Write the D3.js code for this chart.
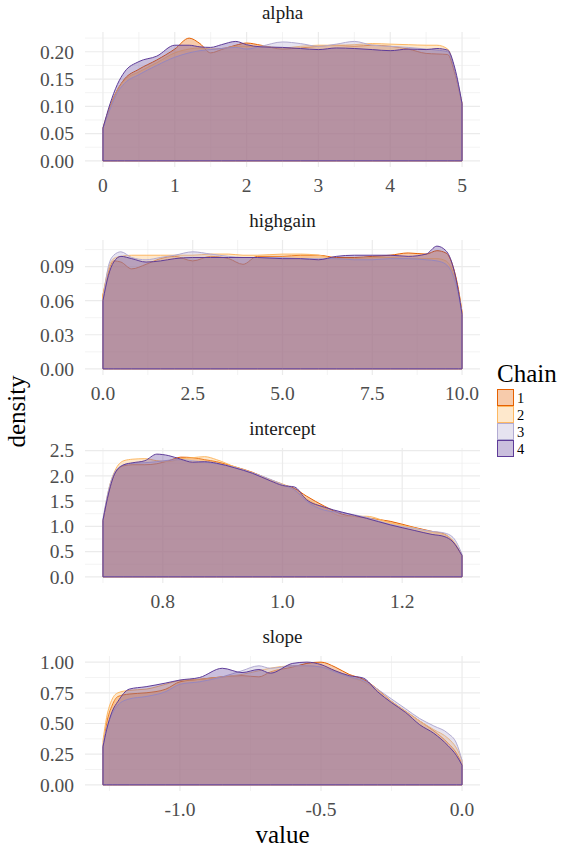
<!DOCTYPE html>
<html lang="en">
<head>
<meta charset="UTF-8">
<title>Chain densities</title>
<script src="https://d3js.org/d3.v7.min.js"></script>
<style>
  body { margin: 0; background: #fff; }
  svg text { font-family: "Liberation Serif", "DejaVu Serif", serif; }
</style>
</head>
<body>
<svg id="main" width="562" height="848"></svg>
<script>
// chain colours (PuOr)
const chains = ['1', '2', '3', '4'];
const chainColors = ['#e66101', '#fdb863', '#b2abd2', '#5e3c99'];

// alpha
const alphaX = [0, 0.1, 0.2, 0.3, 0.5, 0.75, 1.0, 1.2, 1.35, 1.5, 1.65, 1.85, 2.0, 2.2, 2.5, 2.75, 3.0, 3.25, 3.5, 3.75, 4.0, 4.25, 4.5, 4.65, 4.8, 4.9, 5.0];
const alphaY = [
  [0.06, 0.10, 0.13, 0.15, 0.168, 0.185, 0.205, 0.225, 0.215, 0.198, 0.204, 0.212, 0.216, 0.212, 0.205, 0.207, 0.210, 0.212, 0.210, 0.212, 0.210, 0.205, 0.197, 0.196, 0.195, 0.16, 0.105],
  [0.06, 0.10, 0.13, 0.148, 0.163, 0.18, 0.198, 0.205, 0.207, 0.205, 0.206, 0.21, 0.21, 0.21, 0.207, 0.21, 0.212, 0.212, 0.213, 0.215, 0.214, 0.213, 0.212, 0.212, 0.205, 0.165, 0.105],
  [0.06, 0.095, 0.125, 0.142, 0.158, 0.175, 0.19, 0.198, 0.202, 0.204, 0.206, 0.208, 0.205, 0.21, 0.218, 0.215, 0.21, 0.214, 0.219, 0.212, 0.21, 0.208, 0.205, 0.203, 0.2, 0.165, 0.105],
  [0.06, 0.105, 0.14, 0.163, 0.182, 0.192, 0.212, 0.212, 0.209, 0.208, 0.213, 0.219, 0.213, 0.209, 0.208, 0.206, 0.204, 0.207, 0.206, 0.204, 0.202, 0.205, 0.204, 0.206, 0.203, 0.17, 0.105]
];
const alphaXTicks = [0, 1, 2, 3, 4, 5];
const alphaXLabels = ['0', '1', '2', '3', '4', '5'];
const alphaYTicks = [0, 0.05, 0.10, 0.15, 0.20];
const alphaYLabels = ['0.00', '0.05', '0.10', '0.15', '0.20'];

// highgain
const highgainX = [0, 0.15, 0.3, 0.5, 0.8, 1.2, 1.6, 2.0, 2.5, 3.0, 3.5, 3.9, 4.3, 5.0, 5.5, 6.0, 6.5, 7.0, 7.5, 8.0, 8.5, 9.0, 9.3, 9.55, 9.75, 9.9, 10];
const highgainY = [
  [0.065, 0.085, 0.095, 0.094, 0.088, 0.092, 0.097, 0.099, 0.095, 0.099, 0.097, 0.092, 0.099, 0.099, 0.1, 0.1, 0.098, 0.098, 0.099, 0.1, 0.102, 0.101, 0.104, 0.102, 0.09, 0.07, 0.05],
  [0.065, 0.088, 0.097, 0.099, 0.1, 0.1, 0.1, 0.1, 0.1, 0.101, 0.101, 0.1, 0.1, 0.101, 0.101, 0.1, 0.097, 0.097, 0.098, 0.098, 0.097, 0.097, 0.097, 0.095, 0.085, 0.068, 0.05],
  [0.06, 0.09, 0.1, 0.103, 0.098, 0.096, 0.098, 0.1, 0.103, 0.101, 0.099, 0.098, 0.098, 0.098, 0.097, 0.097, 0.097, 0.096, 0.096, 0.097, 0.097, 0.096, 0.095, 0.092, 0.082, 0.065, 0.048],
  [0.06, 0.082, 0.094, 0.099, 0.097, 0.094, 0.095, 0.097, 0.098, 0.098, 0.098, 0.098, 0.098, 0.097, 0.097, 0.096, 0.099, 0.1, 0.1, 0.1, 0.099, 0.101, 0.108, 0.104, 0.09, 0.068, 0.048]
];
const highgainXTicks = [0, 2.5, 5, 7.5, 10];
const highgainXLabels = ['0.0', '2.5', '5.0', '7.5', '10.0'];
const highgainYTicks = [0, 0.03, 0.06, 0.09];
const highgainYLabels = ['0.00', '0.03', '0.06', '0.09'];

// intercept
const interceptX = [0.7, 0.71, 0.72, 0.735, 0.75, 0.77, 0.79, 0.81, 0.83, 0.85, 0.87, 0.89, 0.92, 0.95, 0.98, 1.0, 1.02, 1.04, 1.07, 1.1, 1.14, 1.18, 1.22, 1.25, 1.27, 1.285, 1.3];
const interceptY = [
  [1.1, 1.7, 2.05, 2.2, 2.22, 2.22, 2.24, 2.3, 2.37, 2.36, 2.32, 2.28, 2.18, 2.07, 1.92, 1.83, 1.75, 1.6, 1.4, 1.24, 1.17, 1.1, 0.98, 0.9, 0.85, 0.7, 0.42],
  [1.1, 1.75, 2.1, 2.3, 2.33, 2.34, 2.3, 2.28, 2.34, 2.36, 2.38, 2.32, 2.18, 2.06, 1.92, 1.84, 1.72, 1.55, 1.36, 1.2, 1.2, 1.07, 0.97, 0.88, 0.84, 0.72, 0.43],
  [1.15, 1.75, 2.08, 2.22, 2.25, 2.26, 2.28, 2.31, 2.32, 2.3, 2.27, 2.24, 2.17, 2.06, 1.93, 1.83, 1.72, 1.5, 1.32, 1.27, 1.18, 1.04, 0.96, 0.9, 0.87, 0.78, 0.45],
  [1.12, 1.68, 2.05, 2.22, 2.26, 2.3, 2.43, 2.4, 2.33, 2.27, 2.28, 2.25, 2.16, 2.05, 1.9, 1.81, 1.78, 1.53, 1.38, 1.28, 1.16, 1.03, 0.92, 0.84, 0.8, 0.69, 0.42]
];
const interceptXTicks = [0.8, 1.0, 1.2];
const interceptXLabels = ['0.8', '1.0', '1.2'];
const interceptYTicks = [0, 0.5, 1.0, 1.5, 2.0, 2.5];
const interceptYLabels = ['0.0', '0.5', '1.0', '1.5', '2.0', '2.5'];

// slope
const slopeX = [-1.273, -1.26, -1.24, -1.22, -1.18, -1.12, -1.05, -1.0, -0.93, -0.85, -0.78, -0.72, -0.68, -0.6, -0.55, -0.5, -0.45, -0.4, -0.35, -0.3, -0.25, -0.2, -0.15, -0.1, -0.05, -0.02, 0];
const slopeY = [
  [0.3, 0.5, 0.65, 0.72, 0.74, 0.75, 0.78, 0.84, 0.86, 0.88, 0.89, 0.88, 0.92, 0.96, 0.99, 1.0, 0.96, 0.9, 0.86, 0.78, 0.68, 0.6, 0.52, 0.44, 0.34, 0.26, 0.17],
  [0.36, 0.55, 0.7, 0.75, 0.77, 0.78, 0.82, 0.85, 0.86, 0.88, 0.9, 0.93, 0.95, 0.97, 0.97, 0.96, 0.93, 0.88, 0.84, 0.77, 0.68, 0.6, 0.52, 0.45, 0.38, 0.3, 0.2],
  [0.32, 0.46, 0.58, 0.65, 0.7, 0.72, 0.76, 0.82, 0.84, 0.88, 0.93, 0.97, 0.95, 0.97, 0.97, 0.96, 0.92, 0.88, 0.85, 0.78, 0.7, 0.62, 0.54, 0.48, 0.42, 0.34, 0.2],
  [0.31, 0.45, 0.6, 0.68, 0.78, 0.8, 0.83, 0.854, 0.875, 0.95, 0.915, 0.94, 0.91, 0.99, 1.0, 0.98, 0.93, 0.89, 0.87, 0.76, 0.67, 0.59, 0.49, 0.42, 0.32, 0.24, 0.16]
];
const slopeXTicks = [-1.0, -0.5, 0.0];
const slopeXLabels = ['-1.0', '-0.5', '0.0'];
const slopeYTicks = [0, 0.25, 0.5, 0.75, 1.0];
const slopeYLabels = ['0.00', '0.25', '0.50', '0.75', '1.00'];

const facets = [
  {name: 'alpha', x: alphaX, y: alphaY, xt: alphaXTicks, xl: alphaXLabels, yt: alphaYTicks, yl: alphaYLabels},
  {name: 'highgain', x: highgainX, y: highgainY, xt: highgainXTicks, xl: highgainXLabels, yt: highgainYTicks, yl: highgainYLabels},
  {name: 'intercept', x: interceptX, y: interceptY, xt: interceptXTicks, xl: interceptXLabels, yt: interceptYTicks, yl: interceptYLabels},
  {name: 'slope', x: slopeX, y: slopeY, xt: slopeXTicks, xl: slopeXLabels, yt: slopeYTicks, yl: slopeYLabels}
];

const svg = d3.select('svg#main');
const left = 85, right = 480;
const panelTops = [32, 240, 448, 656];
const panelH = 135;
const fillAlpha = 0.33;

// minor breaks half-way between majors
function minors(ticks, lo, hi) {
  const step = ticks[1] - ticks[0];
  const out = [];
  for (let v = ticks[0] - step / 2; v <= hi; v += step) {
    if (v >= lo) out.push(v);
  }
  return out;
}

facets.forEach(function (f, i) {
  const top = panelTops[i], bottom = top + panelH;
  const xMin = d3.min(f.x), xMax = d3.max(f.x);
  const xPad = (xMax - xMin) * 0.05;
  const yMax = d3.max(f.y, function (s) { return d3.max(s); });
  const yPad = yMax * 0.05;

  const x = d3.scaleLinear().domain([xMin - xPad, xMax + xPad]).range([left, right]);
  const y = d3.scaleLinear().domain([-yPad, yMax + yPad]).range([bottom, top]);

  const g = svg.append('g');

  // grid
  const xm = minors(f.xt, x.domain()[0], x.domain()[1]);
  const ym = minors(f.yt, y.domain()[0], y.domain()[1]);
  g.selectAll('.xminor').data(xm).enter().append('line')
    .attr('x1', d => x(d)).attr('x2', d => x(d)).attr('y1', top).attr('y2', bottom)
    .attr('stroke', '#ebebeb').attr('stroke-width', 0.6);
  g.selectAll('.yminor').data(ym).enter().append('line')
    .attr('x1', left).attr('x2', right).attr('y1', d => y(d)).attr('y2', d => y(d))
    .attr('stroke', '#ebebeb').attr('stroke-width', 0.6);
  g.selectAll('.xmajor').data(f.xt).enter().append('line')
    .attr('x1', d => x(d)).attr('x2', d => x(d)).attr('y1', top).attr('y2', bottom)
    .attr('stroke', '#ebebeb').attr('stroke-width', 1.2);
  g.selectAll('.ymajor').data(f.yt).enter().append('line')
    .attr('x1', left).attr('x2', right).attr('y1', d => y(d)).attr('y2', d => y(d))
    .attr('stroke', '#ebebeb').attr('stroke-width', 1.2);

  // densities
  const area = d3.area()
    .x(function (d) { return x(d[0]); })
    .y0(y(0))
    .y1(function (d) { return y(d[1]); })
    .curve(d3.curveMonotoneX);
  f.y.forEach(function (series, c) {
    const pts = f.x.map(function (v, k) { return [v, series[k]]; });
    g.append('path')
      .attr('d', area(pts) + 'Z')
      .attr('fill', chainColors[c]).attr('fill-opacity', fillAlpha)
      .attr('stroke', chainColors[c]).attr('stroke-width', 1)
      .attr('stroke-linejoin', 'round');
  });

  // strip title
  g.append('text').attr('x', (left + right) / 2).attr('y', top - 13)
    .attr('text-anchor', 'middle').attr('font-size', 19).attr('fill', '#1a1a1a')
    .text(f.name);

  // tick labels
  g.selectAll('.xl').data(f.xt).enter().append('text')
    .attr('x', d => x(d)).attr('y', bottom + 25)
    .attr('text-anchor', 'middle').attr('font-size', 19.5).attr('fill', '#4d4d4d')
    .text((d, k) => f.xl[k]);
  g.selectAll('.yl').data(f.yt).enter().append('text')
    .attr('x', 74).attr('y', d => y(d)).attr('dy', '0.35em')
    .attr('text-anchor', 'end').attr('font-size', 19.5).attr('fill', '#4d4d4d')
    .text((d, k) => f.yl[k]);
});

// axis titles
svg.append('text').attr('x', (left + right) / 2).attr('y', 843)
  .attr('text-anchor', 'middle').attr('font-size', 25).attr('fill', '#000')
  .text('value');
svg.append('text').attr('transform', 'translate(25,' + (panelTops[0] + panelTops[3] + panelH) / 2 + ') rotate(-90)')
  .attr('text-anchor', 'middle').attr('font-size', 25).attr('fill', '#000')
  .text('density');

// legend
const legend = svg.append('g').attr('transform', 'translate(497,0)');
legend.append('text').attr('x', 0).attr('y', 382).attr('font-size', 25).attr('fill', '#000').text('Chain');
const keys = legend.selectAll('.key').data(chains).enter().append('g')
  .attr('transform', (d, k) => 'translate(0,' + (389 + k * 17) + ')');
keys.append('rect').attr('x', 0.5).attr('y', 0.5).attr('width', 16).attr('height', 16)
  .attr('fill', (d, k) => chainColors[k]).attr('fill-opacity', fillAlpha)
  .attr('stroke', (d, k) => chainColors[k]).attr('stroke-width', 1);
keys.append('text').attr('x', 20).attr('y', 13.5).attr('font-size', 14.5).attr('fill', '#000')
  .text(d => d);
</script>
</body>
</html>
